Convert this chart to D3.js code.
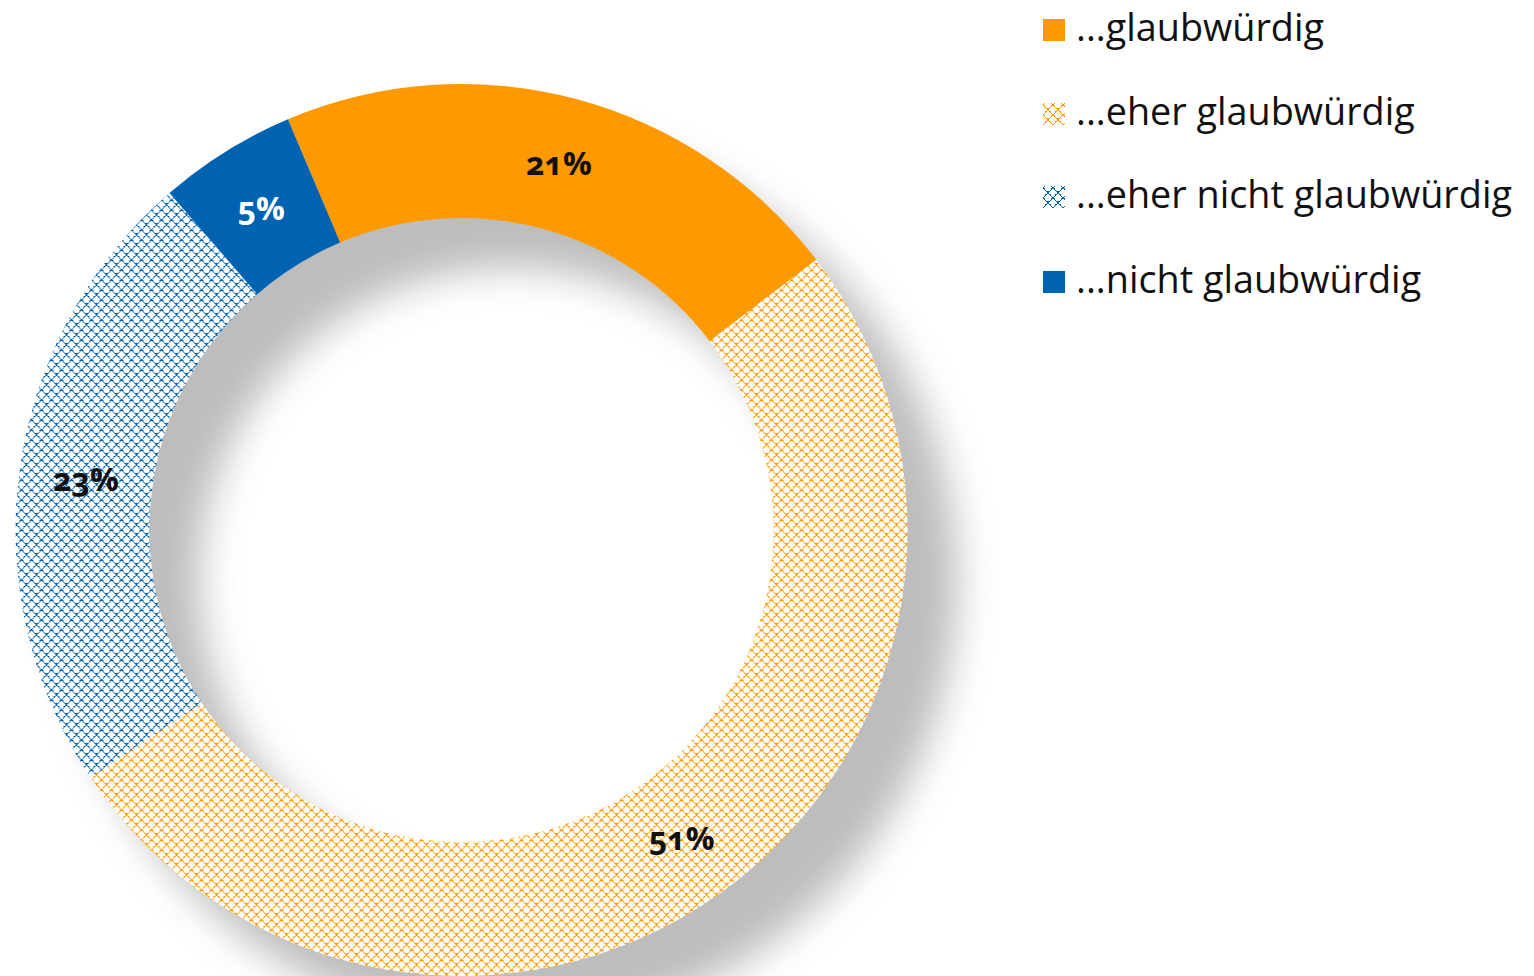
<!DOCTYPE html>
<html>
<head>
<meta charset="utf-8">
<script src="https://cdn.jsdelivr.net/npm/d3@7"></script>
<style>
  html, body { margin: 0; padding: 0; background: #fff; overflow: hidden; }
  svg { display: block; }
  .lbl { font-family: "Open Sans", "Noto Sans", sans-serif; font-weight: 700; font-variant-numeric: oldstyle-nums; font-feature-settings: "onum" 1; }
  .leg { font-family: "Open Sans", "Noto Sans", sans-serif; font-weight: 400; }
</style>
</head>
<body>
<script>
// ---- data ----
const categories = ["...glaubwürdig", "...eher glaubwürdig", "...eher nicht glaubwürdig", "...nicht glaubwürdig"];
const values = [21, 51, 23, 5];
const labels = ["21%", "51%", "23%", "5%"];

// ---- style ----
const W = 1534, H = 976;
const ORANGE = "#FF9900", BLUE = "#0063B1";
const fills = ["solid-o", "hatch-o", "hatch-b", "solid-b"];
const labelColors = ["#111", "#111", "#111", "#fff"];
const cx = 461.5, cy = 530, rOuter = 446, rInner = 312;
const startDeg = -22.9;
const P = 10; // hatch pitch

const svg = d3.select("body").append("svg").attr("width", W).attr("height", H);
const defs = svg.append("defs");

function hatch(id, color) {
  const p = defs.append("pattern").attr("id", id).attr("patternUnits", "userSpaceOnUse")
    .attr("width", P).attr("height", P);
  p.append("rect").attr("width", P).attr("height", P).attr("fill", "#fff");
  const px = (x, y) => p.append("rect").attr("x", ((x % P) + P) % P).attr("y", y)
    .attr("width", 1).attr("height", 1).attr("fill", color);
  d3.range(P).forEach(k => {
    px(k, k);
    px(P - 1 - k, k);
    if (k % 3 === 0) { px(k + 1, k); px(P - 2 - k, k); }
  });
}
hatch("hatch-o", ORANGE);
hatch("hatch-b", BLUE);
const fillOf = f => f === "solid-o" ? ORANGE : f === "solid-b" ? BLUE : `url(#${f})`;

const flt = defs.append("filter").attr("id", "shadow").attr("filterUnits", "userSpaceOnUse")
  .attr("x", -600).attr("y", -600).attr("width", 1300).attr("height", 1300);
flt.append("feGaussianBlur").attr("in", "SourceAlpha").attr("stdDeviation", 19).attr("result", "b");
flt.append("feOffset").attr("in", "b").attr("dx", 50).attr("dy", 50).attr("result", "o");
flt.append("feFlood").attr("flood-color", "#bdbdbd").attr("result", "c");
flt.append("feComposite").attr("in", "c").attr("in2", "o").attr("operator", "in");

const pie = d3.pie().sort(null).value(d => d)
  .startAngle(startDeg * Math.PI / 180)
  .endAngle((startDeg + 360) * Math.PI / 180);
const arcs = pie(values);
const arc = d3.arc().innerRadius(rInner).outerRadius(rOuter);
const labelArc = d3.arc().innerRadius((rInner + rOuter) / 2).outerRadius((rInner + rOuter) / 2);

const g = svg.append("g").attr("transform", `translate(${cx},${cy})`);
// shadow
g.append("g").attr("filter", "url(#shadow)")
  .selectAll("path").data(arcs).join("path").attr("d", arc).attr("fill", "#000");
// slices
g.selectAll("path.slice").data(arcs).join("path").attr("class", "slice")
  .attr("d", arc).attr("fill", (d, i) => fillOf(fills[i]));
// labels
g.selectAll("text.lbl").data(arcs).join("text").attr("class", "lbl")
  .attr("transform", d => `translate(${labelArc.centroid(d)})`)
  .attr("text-anchor", "middle").attr("dy", "0.36em")
  .attr("font-size", 32)
  .attr("fill", (d, i) => labelColors[i])
  .text((d, i) => labels[i]);

// legend
const legend = svg.append("g");
const rowY = [41, 125, 208, 293];
const items = legend.selectAll("g").data(categories).join("g")
  .attr("transform", (d, i) => `translate(1043,${rowY[i]})`);
items.append("rect").attr("x", 0).attr("y", -22).attr("width", 22).attr("height", 22)
  .attr("fill", (d, i) => fillOf(fills[i]));
const texts = items.append("text").attr("class", "leg").attr("x", 33).attr("y", 0)
  .attr("font-size", 100).attr("fill", "#111").text(d => d);
const longest = d3.max(texts.nodes(), n => n.getComputedTextLength());
texts.attr("font-size", 100 * 436 / longest);
</script>
</body>
</html>
